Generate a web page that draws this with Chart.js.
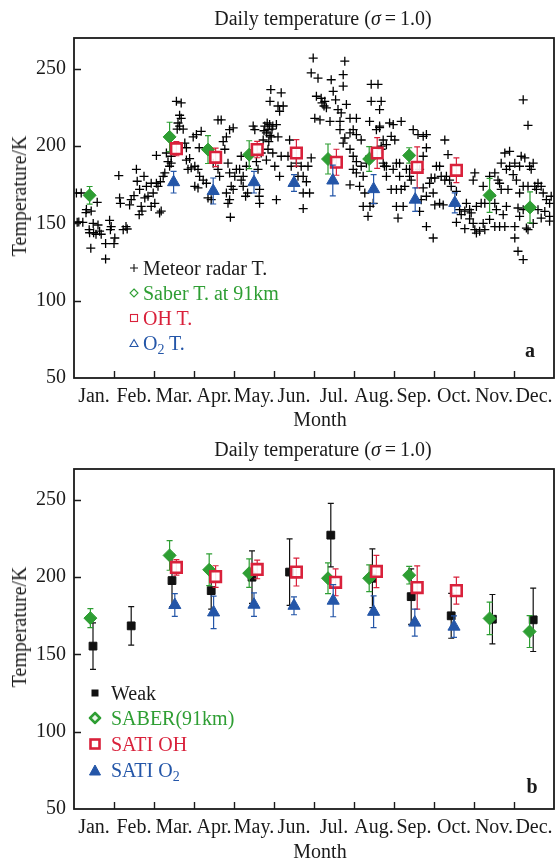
<!DOCTYPE html>
<html>
<head>
<meta charset="utf-8">
<script src="https://cdn.jsdelivr.net/npm/chart.js@4.4.1/dist/chart.umd.min.js"></script>
<style>
  body { margin: 0; background: #fff; font-family: "Liberation Serif", serif; color: #1a1a1a; }
  .panel { position: relative; width: 557px; height: 431px; }
  .panel canvas { position: absolute; left: 0; top: 0; }
  .txt { position: absolute; white-space: nowrap; font-size: 20px; line-height: 24px; }
  .title { left: 123px; width: 400px; text-align: center; top: 6px; }
  .ylab { transform: translate(-50%, -50%) rotate(-90deg); left: 19px; }
  .xlab { transform: translate(-50%, -50%); left: 320px; top: 419px; }
  .tag { font-weight: bold; transform: translate(-50%, -50%); }
  .row { position: absolute; white-space: nowrap; font-size: 20px; line-height: 24px; }
  .row svg { position: absolute; top: 50%; transform: translate(-50%, -50%); }
  sub { font-size: 14px; line-height: 0; vertical-align: -4px; }
</style>
</head>
<body>

<div class="panel">
  <canvas id="chartA" width="557" height="431"></canvas>
  <div class="txt title">Daily temperature (<i>σ</i>&thinsp;=&thinsp;1.0)</div>
  <div class="txt ylab" style="top:196px">Temperature/K</div>
  <div class="txt xlab">Month</div>
  <div class="txt tag" style="left:530px; top:350px">a</div>
  <div class="row" style="left:143px; top:256px">
    <svg width="10" height="10" style="left:-9px"><path d="M5 1V9M1 5H9" stroke="#111" stroke-width="1.1"/></svg>Meteor radar T.</div>
  <div class="row" style="left:143px; top:281px; color:#2e9e33">
    <svg width="10" height="10" style="left:-9px"><polygon points="5,1 9,5 5,9 1,5" fill="none" stroke="#2e9e33" stroke-width="1.1"/></svg>Saber T. at 91km</div>
  <div class="row" style="left:143px; top:306px; color:#d9213b">
    <svg width="10" height="10" style="left:-9px"><rect x="1.5" y="1.5" width="7" height="7" fill="none" stroke="#d9213b" stroke-width="1.1"/></svg>OH T.</div>
  <div class="row" style="left:143px; top:331px; color:#2456a8">
    <svg width="10" height="10" style="left:-9px"><polygon points="5,1.5 9,8.5 1,8.5" fill="none" stroke="#2456a8" stroke-width="1.1"/></svg>O<sub>2</sub> T.</div>
</div>

<div class="panel" style="height:432px">
  <canvas id="chartB" width="557" height="431"></canvas>
  <div class="txt title">Daily temperature (<i>σ</i>&thinsp;=&thinsp;1.0)</div>
  <div class="txt ylab" style="top:196px">Temperature/K</div>
  <div class="txt xlab" style="top:420px">Month</div>
  <div class="txt tag" style="left:532px; top:355px">b</div>
  <div class="row" style="left:111px; top:250px">
    <svg width="10" height="10" style="left:-16px"><rect x="1.5" y="1.5" width="7" height="7" fill="#111"/></svg>Weak</div>
  <div class="row" style="left:111px; top:275px; color:#2e9e33">
    <svg width="13" height="13" style="left:-16px"><polygon points="6.5,1.5 11.5,6.5 6.5,11.5 1.5,6.5" fill="#e8f5e8" stroke="#2e9e33" stroke-width="2.6"/></svg>SABER(91km)</div>
  <div class="row" style="left:111px; top:301px; color:#d9213b">
    <svg width="12" height="12" style="left:-16px"><rect x="1.5" y="1.5" width="9" height="9" fill="#fff" stroke="#d9213b" stroke-width="2.6"/></svg>SATI OH</div>
  <div class="row" style="left:111px; top:327px; color:#2456a8">
    <svg width="13" height="12" style="left:-16px"><polygon points="6.5,1 12,11 1,11" fill="#2456a8" stroke="#2456a8" stroke-width="1"/></svg>SATI O<sub>2</sub></div>
</div>

<script>
// AXES
const months = ['Jan.', 'Feb.', 'Mar.', 'Apr.', 'May.', 'Jun.', 'Jul.', 'Aug.', 'Sep.', 'Oct.', 'Nov.', 'Dec.'];
const yTicks = [50, 100, 150, 200, 250];

// PANEL A : meteor radar daily temperature, [month, T]
const meteor = [
  [0.06,169.7],[0.18,169.7],[0.08,150.7],[0.12,151],[0.22,150.7],[0.3,157],[0.31,159],[0.38,146],[0.39,144],[0.42,134],
  [0.43,158],[0.48,150],[0.49,144],[0.55,143],[0.58,163.7],[0.6,149],[0.64,145],[0.68,143],[0.79,137],[0.79,127],
  [0.89,152],[0.91,146],[0.93,148],[1.0,137],[1.02,140.6],
  [1.12,181],[1.14,166.5],[1.16,163],[1.23,146],[1.3,148],[1.33,146.4],[1.39,162],[1.43,165.4],[1.5,168],[1.56,185],
  [1.58,177.3],[1.63,155.7],[1.64,172],[1.68,161],[1.7,158],[1.75,180.5],[1.77,166.5],[1.81,174],[1.85,167.6],[1.93,161],
  [1.93,176],[1.98,169.7],[2.02,163],
  [2.06,176],[2.1,174],[2.14,156.8],[2.16,177],[2.18,158],[2.23,180.5],[2.27,182.7],[2.06,194],[2.31,195.6],[2.35,190],
  [2.39,187],[2.43,189],[2.43,193.5],[2.56,229],[2.68,228],[2.64,220],[2.68,218],[2.6,215],[2.64,213],[2.73,211],
  [2.58,211],[2.77,202],[2.81,199],[2.89,192],[2.93,186],[2.85,185],[2.98,206],[2.81,191],
  [3.06,207.5],[3.13,199],[3.18,209.6],[3.02,187],[3.1,185],[3.14,180.5],[3.23,178],[3.02,174],[3.1,173],[3.31,176],
  [3.35,166.5],[3.43,165.4],[3.6,217],[3.48,189],[3.68,217],[3.89,210.7],[3.98,211.8],[3.81,206],[3.73,203],[3.77,198],
  [3.85,189],[3.6,185],[3.64,180.5],[3.89,182.7],[3.93,174],[3.98,172],[3.81,169.7],[3.89,165.4],[3.85,163],[3.91,154],
  [4.02,180.5],[4.06,185],[4.14,185],[4.18,193.5],[4.18,178],[4.23,180.5],[4.31,187],[4.23,174],[4.29,167.6],[4.34,169.7],
  [4.48,213],[4.52,210.7],[4.64,172],[4.63,167.6],[4.64,163],[4.6,185],[4.56,190],[4.68,195.6],[4.73,204],[4.77,213],
  [4.85,210.7],[4.89,214],[4.97,213],[4.81,208.6],[4.93,206],[4.92,236.6],[4.9,229],[4.85,198],[4.97,195.6],[4.81,191],
  [4.75,210],[4.83,215],[4.9,207],[4.95,211],[4.87,203],
  [5.06,214],[5.1,206],[5.18,234.5],[5.1,226],[5.23,226],[5.14,222.6],[5.02,187],[5.14,180.5],[5.06,165.4],[5.18,193.5],
  [5.35,193.5],[5.39,204],[5.43,187],[5.56,189],[5.68,187],[5.6,180.5],[5.73,180.5],[5.81,177],[5.73,169.7],[5.89,169.7],
  [5.73,159.6],[5.85,187],[5.93,192.4],
  [5.98,257],[5.93,247.4],[6.1,244],[6.06,232.3],[6.18,231],[6.2,228],[6.25,226],[6.27,229],[6.31,224.8],[6.43,243],
  [6.48,235.5],[6.54,230],[6.73,238.8],[6.77,255],[6.73,246.3],[6.6,223.7],[6.68,221.5],[6.81,227],[6.02,218],[6.15,217],
  [6.4,216],[6.65,216],[6.9,218],[6.65,210.7],[6.77,205.3],[6.9,208.6],[6.98,210.7],[6.73,202],[6.9,198],[6.98,193.5],
  [6.9,175],[6.98,185],
  [7.06,218],[7.06,207.5],[7.18,204],[7.06,190],[7.18,187],[7.06,182.7],[7.27,169.7],[7.23,161],[7.35,154.6],[7.4,161],
  [7.48,163],[7.43,240],[7.43,229],[7.6,240],[7.68,229],[7.64,223.7],[7.39,216],[7.56,210.7],[7.64,213],[7.31,189],
  [7.39,193.5],[7.68,200],[7.73,189],[7.81,187],[7.23,180.5],[7.14,174],[7.64,212],[7.73,204],[7.89,215],[7.98,214],
  [7.68,198],[7.81,201],[7.93,206.4],[7.76,187],[7.81,180.5],[7.98,185],[7.93,172],
  [8.18,216],[8.02,204],[8.06,189],[8.14,189],[8.06,172],[8.18,172],[8.27,174],[8.14,180.5],[8.31,185],[8.39,185],
  [8.48,210.7],[8.6,207.5],[8.73,206.4],[8.81,207.5],[8.81,199],[8.73,193.5],[8.64,185],[8.43,178],[8.39,180.5],[8.73,173],
  [8.81,167.6],[8.68,165.4],[8.06,161],[8.23,161],[8.1,153.5],[8.64,157.8],[8.81,148],[8.98,140.6],[8.93,179.4],[8.89,176],
  [8.98,169.7],
  [9.02,179.4],[9.06,187],[9.14,187],[9.27,204],[9.35,194.6],[9.18,180.5],[9.27,178],[9.31,180.5],[9.39,178],[9.43,174],
  [9.52,163],[9.56,170.8],[9.02,162],[9.14,163],[9.23,162],[9.64,158.9],[9.68,155.7],[9.81,163],[9.77,158],[9.89,159],
  [9.93,156.8],[9.98,178],[9.56,150.7],[9.77,146.6],[9.89,153],[9.98,150],
  [10.02,182.7],[10.02,146],[10.06,143.8],[10.14,145],[10.27,146],[10.23,150],[10.39,152.6],[10.52,148],[10.64,148],[10.77,148],
  [10.06,161],[10.18,163],[10.27,163],[10.23,174],[10.39,180.5],[10.52,182.7],[10.6,178],[10.64,176],[10.43,167.6],[10.52,163],
  [10.56,158.9],[10.73,155.7],[10.81,161],[10.68,172],[10.85,172],[10.77,195.6],[10.89,196.7],[10.68,189],[10.89,187],[10.81,185],
  [10.98,181.6],
  [11.02,189],[11.18,193.5],[11.27,192.4],[11.14,187],[11.39,187],[11.48,189],[11.43,185],[11.23,230],[11.35,213.5],[11.06,178],
  [11.14,169.7],[11.23,174],[11.35,174],[11.52,174],[11.6,176],[11.68,174],[11.56,172],[11.73,169.7],[11.81,165.4],[11.89,163],
  [11.93,167.6],[11.77,157.8],[11.89,154.6],[11.89,151.5],[11.68,153.5],[11.6,158.9],[11.23,158.9],[11.14,154.6],[11.02,148],[11.35,146],
  [11.31,147],[11.48,150],[11.02,140.6],[11.1,132],[11.23,126.6],[11.1,160]
];

// PANEL A : monthly satellite / SATI temperatures with error bars
const saberX = [0.39, 2.39, 3.35, 4.38, 6.35, 7.38, 8.38, 10.39, 11.4];
const saberT = [168.2, 206, 197.8, 194.5, 191.7, 191.7, 194, 168.2, 160.4];
const saberErr = [5.7, 9.5, 9, 9, 9.7, 8, 5, 11, 10];
const ohX = [2.56, 3.54, 4.58, 5.56, 6.56, 7.58, 8.58, 9.56];
const ohT = [198.4, 192.8, 197.8, 195.6, 189.6, 195.6, 186.3, 184.4];
const ohErr = [4.6, 6, 5.3, 8.6, 8.4, 10, 13.3, 8];
const o2X = [2.49, 3.48, 4.5, 5.5, 6.47, 7.49, 8.53, 9.52];
const o2T = [176.7, 171, 176.7, 176.2, 177.8, 172.2, 165.4, 163.3];
const o2Err = [7, 8.4, 7, 5.4, 10, 9.4, 7.6, 6.5];

// PANEL B : weak-days averages
const weakX = [0.475, 1.43, 2.45, 3.43, 4.45, 5.39, 6.42, 7.46, 8.43, 9.43, 10.46, 11.48];
const weakT = [155.4, 168.5, 197.8, 191.3, 200, 203.3, 227.2, 199.3, 187.4, 175, 172.8, 172.4];
const weakErr = [15, 12.5, 17, 12, 17, 21.5, 20.5, 19, 18, 14.5, 16, 20.5];
const saberBX = [0.41, 2.39, 3.38, 4.38, 6.35, 7.38, 8.38, 10.39, 11.39];
const saberBT = [173.5, 214.1, 204.8, 202.6, 199.3, 199.3, 201.3, 173.3, 164.8];
const saberBErr = [6.2, 9.6, 10.3, 9.2, 10, 8.7, 5.7, 10.5, 10.3];
const ohBX = [2.56, 3.54, 4.58, 5.56, 6.54, 7.56, 8.58, 9.56];
const ohBT = [206.3, 200.4, 205, 203.3, 196.7, 203.7, 193.3, 191.3];
const ohBErr = [5, 7, 6, 9, 8.7, 10.4, 14, 8.7];
const o2BX = [2.52, 3.49, 4.5, 5.5, 6.48, 7.49, 8.52, 9.5];
const o2BT = [182, 177.2, 182.2, 181.5, 184.8, 177.6, 170.6, 168];
const o2BErr = [7.3, 10.5, 7.6, 5.8, 10.4, 10.3, 8.7, 7];

const GREEN = '#2e9e33', RED = '#d9213b', BLUE = '#2456a8', BLACK = '#111';
const FONT = { family: 'Liberation Serif', size: 20 };

const pts = (xs, ys) => xs.map((x, i) => ({ x: x, y: ys[i] }));

// error bars drawn under each dataset's own markers
const errorBars = {
    id: 'errorBars',
    beforeDatasetDraw(chart, args) {
        const ds = chart.data.datasets[args.index];
        if (!ds.err) return;
        const ctx = chart.ctx;
        const x = chart.scales.x, y = chart.scales.y;
        ctx.save();
        ctx.strokeStyle = ds.borderColor;
        ctx.lineWidth = 1.2;
        ds.data.forEach((p, i) => {
            const px = x.getPixelForValue(p.x);
            const top = y.getPixelForValue(p.y + ds.err[i]);
            const bot = y.getPixelForValue(p.y - ds.err[i]);
            ctx.beginPath();
            ctx.moveTo(px, top); ctx.lineTo(px, bot);
            ctx.moveTo(px - 3, top); ctx.lineTo(px + 3, top);
            ctx.moveTo(px - 3, bot); ctx.lineTo(px + 3, bot);
            ctx.stroke();
        });
        ctx.restore();
    }
};

// box round the plot + inward ticks
const frame = {
    id: 'frame',
    afterDatasetsDraw(chart) {
        const { ctx, chartArea: a } = chart;
        const x = chart.scales.x, y = chart.scales.y;
        ctx.save();
        ctx.strokeStyle = '#1a1a1a';
        ctx.lineWidth = 1.8;
        ctx.strokeRect(a.left, a.top, a.right - a.left, a.bottom - a.top);
        ctx.lineWidth = 1.4;
        ctx.beginPath();
        for (let m = 1; m < 12; m++) {
            const px = Math.round(x.getPixelForValue(m)) + 0.5;
            ctx.moveTo(px, a.bottom); ctx.lineTo(px, a.bottom - 7);
        }
        yTicks.slice(1).forEach(v => {
            const py = Math.round(y.getPixelForValue(v)) + 0.5;
            ctx.moveTo(a.left, py); ctx.lineTo(a.left + 7, py);
        });
        ctx.stroke();
        ctx.restore();
    }
};

function makeOptions() {
    return {
        responsive: false,
        animation: false,
        events: [],
        layout: { autoPadding: false, padding: { top: 38, right: 3, left: 0, bottom: 0 } },
        plugins: { legend: { display: false }, tooltip: { enabled: false } },
        scales: {
            x: {
                type: 'linear', min: 0, max: 12,
                grid: { display: false, drawTicks: false },
                border: { display: false },
                afterBuildTicks: a => { a.ticks = months.map((m, i) => ({ value: i + 0.5 })); },
                afterFit: a => { a.height = 53; a.paddingLeft = 0; a.paddingRight = 0; },
                ticks: { autoSkip: false, maxRotation: 0, padding: 7, color: '#1a1a1a', font: FONT,
                         callback: (v, i) => months[i] }
            },
            y: {
                min: 50, max: 270,
                grid: { display: false, drawTicks: false },
                border: { display: false },
                afterBuildTicks: a => { a.ticks = yTicks.map(v => ({ value: v })); },
                afterFit: a => { a.width = 74; },
                ticks: { padding: 8, color: '#1a1a1a', font: FONT }
            }
        }
    };
}

function marker(style, color, radius, fill, bw) {
    return { pointStyle: style, pointRadius: radius, borderColor: color,
             pointBackgroundColor: fill, pointBorderColor: color, pointBorderWidth: bw, showLine: false };
}

// PANEL A
new Chart(document.getElementById('chartA'), {
    type: 'scatter',
    data: {
        datasets: [
            Object.assign({ label: 'Saber T. at 91km', data: pts(saberX, saberT), err: saberErr, order: 3 },
                marker('rectRot', GREEN, 6.5, GREEN, 1)),
            Object.assign({ label: 'OH T.', data: pts(ohX, ohT), err: ohErr, order: 2 },
                marker('rect', RED, 7.5, 'rgba(255,255,255,0.9)', 2.6)),
            Object.assign({ label: 'O2 T.', data: pts(o2X, o2T), err: o2Err, order: 1 },
                marker('triangle', BLUE, 7, BLUE, 1)),
            Object.assign({ label: 'Meteor radar T.', data: meteor.map(p => ({ x: p[0], y: p[1] })), order: 10 },
                marker('cross', '#000', 4.5, 'rgba(0,0,0,0)', 1.3))
        ]
    },
    options: makeOptions(),
    plugins: [errorBars, frame]
});

// PANEL B
new Chart(document.getElementById('chartB'), {
    type: 'scatter',
    data: {
        datasets: [
            Object.assign({ label: 'SATI O2', data: pts(o2BX, o2BT), err: o2BErr, order: 1 },
                marker('triangle', BLUE, 7, BLUE, 1)),
            Object.assign({ label: 'SATI OH', data: pts(ohBX, ohBT), err: ohBErr, order: 2 },
                marker('rect', RED, 7.5, 'rgba(255,255,255,0.9)', 2.6)),
            Object.assign({ label: 'SABER(91km)', data: pts(saberBX, saberBT), err: saberBErr, order: 3 },
                marker('rectRot', GREEN, 6.5, GREEN, 1)),
            Object.assign({ label: 'Weak', data: pts(weakX, weakT), err: weakErr, order: 4 },
                marker('rect', BLACK, 5.5, BLACK, 1))
        ]
    },
    options: makeOptions(),
    plugins: [errorBars, frame]
});
</script>
</body>
</html>
